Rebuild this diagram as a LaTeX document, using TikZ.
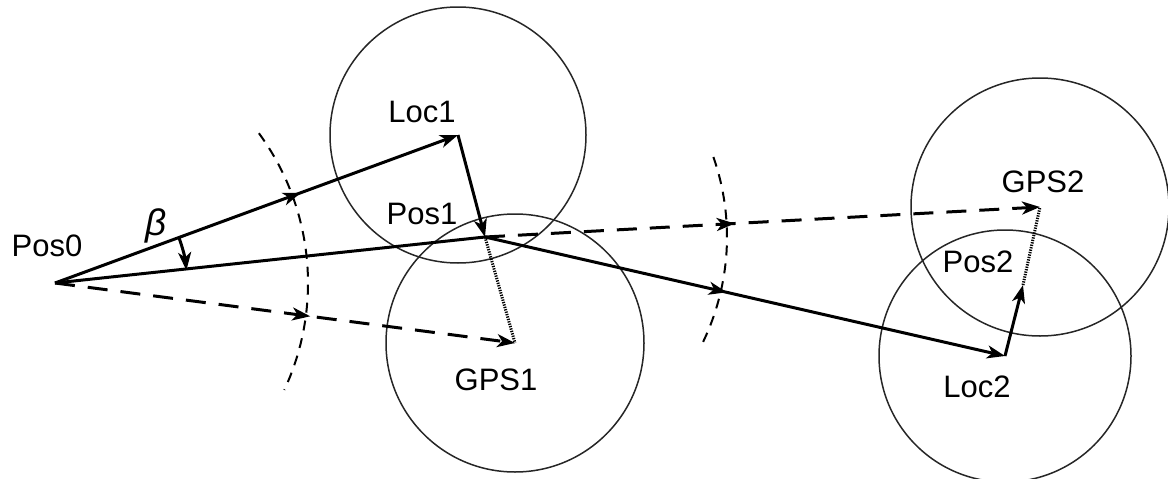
\documentclass[tikz,border=0pt]{standalone}
\usepackage{fontspec}
\setmainfont{Liberation Sans}
\usetikzlibrary{arrows.meta,decorations.markings}
\begin{document}
\begin{tikzpicture}[x=1pt,y=-1pt,
  arrowtip/.style={-{Stealth[length=18pt,width=13pt,inset=5pt]}},
  vecline/.style={line width=3pt},
  guessline/.style={line width=3pt,dash pattern=on 20pt off 13pt},
  distarc/.style={line width=2pt,dash pattern=on 10pt off 8pt},
  dotlink/.style={line width=3pt,dash pattern=on 1.3pt off 1.2pt},
  errcircle/.style={line width=1.5pt,draw=black!85},
  lbl/.style={font=\fontsize{31}{37}\selectfont,inner sep=0pt},
  midtip/.style={postaction={decorate,decoration={markings,
      mark=at position #1 with {\arrow{Stealth[length=18pt,width=13pt,inset=5pt]}}}}}
]
\useasboundingbox (0,0) rectangle (1168,479);

% positions
\coordinate (p0) at (55,283);
\coordinate (loc1) at (458,135);
\coordinate (p1) at (485,237);
\coordinate (gps1) at (515,343);
\coordinate (loc2) at (1005,356);
\coordinate (p2) at (1023,285);
\coordinate (gps2) at (1040,207);

% uncertainty circles
\draw[errcircle] (loc1) circle[radius=128];
\draw[errcircle] (gps1) circle[radius=129];
\draw[errcircle] (gps2) circle[radius=129];
\draw[errcircle] (loc2) circle[radius=126];

% travelled-distance arcs
\draw[distarc] (p0) ++(-36.3:253) arc[start angle=-36.3,end angle=25,radius=253];
\draw[distarc] (p1) ++(-19.3:242) arc[start angle=-19.3,end angle=26,radius=242];

% first step
\draw[vecline,arrowtip,midtip=0.61] (p0) -- (loc1);
\draw[vecline,arrowtip] (loc1) -- (p1);
\draw[vecline] (p0) -- (p1);
\draw[guessline,arrowtip,midtip=0.555] (p0) -- (gps1);
\draw[dotlink] (p1) -- (gps1);

% second step
\draw[vecline,arrowtip,midtip=0.465] (p1) -- (loc2);
\draw[guessline,arrowtip,midtip=0.45] (p1) -- (gps2);
\draw[vecline,arrowtip] (loc2) -- (p2);
\draw[dotlink] (p2) -- (gps2);

% heading correction angle
\draw[vecline,arrowtip] (p0) ++(-20.2:132) arc[start angle=-20.2,end angle=-5.5,radius=132];

% labels
\node[lbl] (lp0) at (47,246) {Pos0};
\node[lbl,font=\fontsize{37}{40}\selectfont\itshape] (lb) at (156,226) {β};
\node[lbl] (ll1) at (422,112) {Loc1};
\node[lbl] (lpos1) at (422,214) {Pos1};
\node[lbl] (lg1) at (496,380) {GPS1};
\node[lbl] (lg2) at (1043,182) {GPS2};
\node[lbl] (lpos2) at (978,262) {Pos2};
\node[lbl] (ll2) at (977,387) {Loc2};
\end{tikzpicture}
\end{document}
